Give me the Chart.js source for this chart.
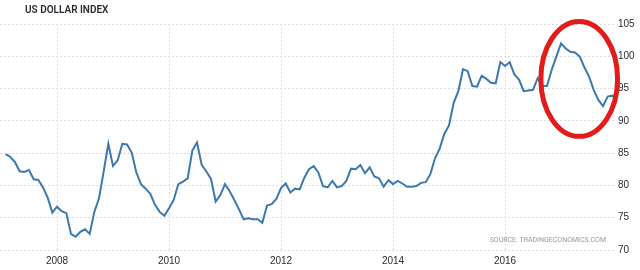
<!DOCTYPE html>
<html>
<head>
<meta charset="utf-8">
<script src="https://cdn.jsdelivr.net/npm/chart.js@4.4.1/dist/chart.umd.min.js"></script>
<style>
  html, body { margin: 0; padding: 0; background: #fff; }
  #wrap { width: 640px; height: 270px; }
</style>
</head>
<body>
<div id="wrap"><canvas id="dxyChart"></canvas></div>
<script>
const chartTitle = 'US DOLLAR INDEX';
const sourceNote = 'SOURCE: TRADINGECONOMICS.COM';

// monthly values, one array per year (Jan..Dec)
const years = [2007, 2008, 2009, 2010, 2011, 2012, 2013, 2014, 2015, 2016, 2017];
const dxy2007 = [84.85, 84.4, 83.6, 82.2, 82.1, 82.4, 80.95, 80.85, 79.7, 78.1, 75.8, 76.7];
const dxy2008 = [76.0, 75.7, 72.5, 72.05, 72.8, 73.2, 72.5, 75.9, 78.0, 82.15, 86.45, 83.0];
const dxy2009 = [83.9, 86.45, 86.35, 85.1, 82.0, 80.2, 79.5, 78.7, 77.0, 75.9, 75.3, 76.45];
const dxy2010 = [77.75, 80.2, 80.6, 81.1, 85.4, 86.65, 83.2, 82.15, 81.0, 77.5, 78.5, 80.2];
const dxy2011 = [79.1, 77.75, 76.3, 74.75, 74.9, 74.75, 74.75, 74.2, 76.9, 77.1, 77.9, 79.6];
const dxy2012 = [80.3, 78.9, 79.5, 79.4, 81.2, 82.5, 83.0, 82.0, 79.9, 79.7, 80.7, 79.7];
const dxy2013 = [79.9, 80.7, 82.6, 82.5, 83.15, 81.9, 82.8, 81.4, 81.1, 79.8, 80.8, 80.2];
const dxy2014 = [80.7, 80.3, 79.8, 79.8, 79.9, 80.4, 80.5, 81.75, 84.2, 85.7, 88.0, 89.3];
const dxy2015 = [92.8, 94.6, 98.0, 97.7, 95.4, 95.3, 97.0, 96.5, 95.9, 95.8, 99.1, 98.5];
const dxy2016 = [99.1, 97.2, 96.4, 94.6, 94.7, 94.8, 96.6, 95.4, 95.4, 97.9, 99.95, 102.0];
const dxy2017 = [101.2, 100.7, 100.6, 99.95, 98.3, 96.9, 94.8, 93.25, 92.3, 93.75, 93.9];
const latestDate = '2017-12-21';
const latestValue = 93.5;

const yearTicks = [2008, 2010, 2012, 2014, 2016];
const valueTicks = [70, 75, 80, 85, 90, 95, 100, 105];

// red ring drawn around the recent fall (in axis units)
const highlight = { fromYear: 2016.64, toYear: 2018.01, low: 87.6, high: 105.4 };

const byYear = [dxy2007, dxy2008, dxy2009, dxy2010, dxy2011, dxy2012,
                dxy2013, dxy2014, dxy2015, dxy2016, dxy2017];

// each monthly value is plotted at the end of its month
const points = [];
byYear.forEach((vals, i) => {
    vals.forEach((v, m) => {
        points.push({ x: years[i] + (m + 1) / 12, y: v });
    });
});
const [ly, lm, ld] = latestDate.split('-').map(Number);
points.push({ x: ly + (lm - 1) / 12 + ld / (31 * 12), y: latestValue });

const extras = {
    id: 'extras',
    afterDraw(chart) {
        const ctx = chart.ctx;
        const xs = chart.scales.x;
        const ys = chart.scales.y;
        ctx.save();
        // title
        ctx.fillStyle = '#2b2b33';
        ctx.font = '600 10px Roboto';
        ctx.textBaseline = 'middle';
        ctx.textAlign = 'left';
        ctx.fillText(chartTitle, 25, 10);
        // source
        ctx.fillStyle = '#999';
        ctx.font = '7px Roboto';
        ctx.textAlign = 'right';
        ctx.fillText(sourceNote, 606, 240);
        // ring
        const x1 = xs.getPixelForValue(highlight.fromYear);
        const x2 = xs.getPixelForValue(highlight.toYear);
        const y1 = ys.getPixelForValue(highlight.high);
        const y2 = ys.getPixelForValue(highlight.low);
        ctx.beginPath();
        ctx.ellipse((x1 + x2) / 2, (y1 + y2) / 2, (x2 - x1) / 2, (y2 - y1) / 2, 0, 0, Math.PI * 2);
        ctx.strokeStyle = '#e31b1b';
        ctx.lineWidth = 5;
        ctx.stroke();
        ctx.restore();
    }
};

new Chart(document.getElementById('dxyChart'), {
    type: 'line',
    data: {
        datasets: [{
            label: chartTitle,
            data: points,
            borderColor: '#3b79ae',
            borderWidth: 2,
            pointRadius: 0,
            tension: 0,
            fill: false
        }]
    },
    options: {
        responsive: true,
        maintainAspectRatio: false,
        animation: false,
        layout: { padding: { top: 24, left: 0, right: 0, bottom: 0 } },
        plugins: {
            legend: { display: false },
            tooltip: { enabled: false }
        },
        scales: {
            x: {
                type: 'linear',
                min: 2006.982,
                max: 2017.982,
                afterBuildTicks: axis => { axis.ticks = yearTicks.map(v => ({ value: v })); },
                afterFit: axis => { axis.height = 20; },
                grid: { color: '#dcdcdc', drawTicks: false },
                border: { display: false, dash: [2, 2] },
                ticks: {
                    autoSkip: false,
                    maxRotation: 0,
                    padding: 5,
                    color: '#2b2b33',
                    font: { family: 'Liberation Sans', size: 10 },
                    callback: v => String(v)
                }
            },
            y: {
                position: 'right',
                min: 70,
                max: 105,
                afterBuildTicks: axis => { axis.ticks = valueTicks.map(v => ({ value: v })); },
                afterFit: axis => { axis.width = 24; },
                grid: { color: '#dcdcdc', drawTicks: false },
                border: { display: false, dash: [2, 2] },
                ticks: {
                    padding: 2,
                    color: '#2b2b33',
                    font: { family: 'Liberation Sans', size: 10 }
                }
            }
        }
    },
    plugins: [extras]
});
</script>
</body>
</html>
